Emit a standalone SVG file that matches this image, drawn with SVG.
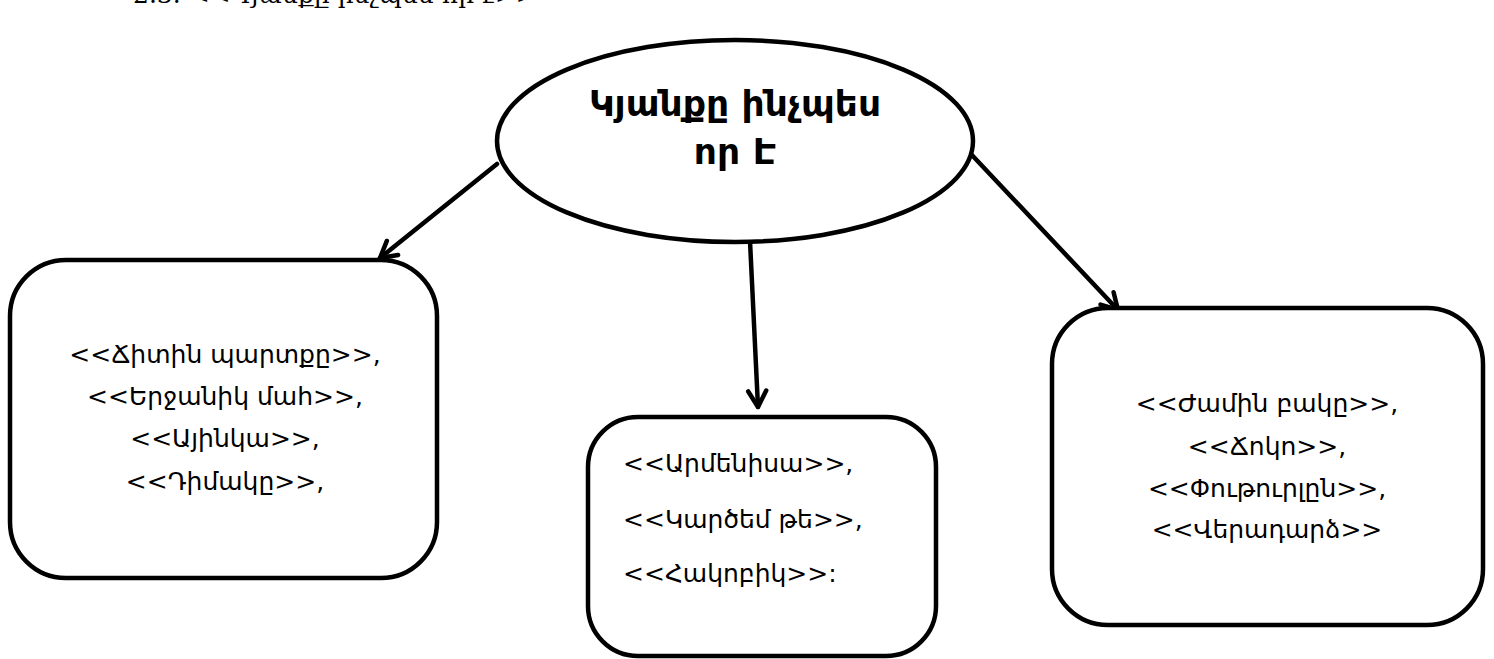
<svg xmlns="http://www.w3.org/2000/svg" width="1494" height="659" viewBox="0 0 1494 659">
<defs>
<style>
.box{fill:#fff;stroke:#000;stroke-width:4.5}
.t{font-family:"DejaVu Sans",sans-serif;font-size:25px;fill:#000}
.c{text-anchor:middle}
.title{font-family:"DejaVu Sans",sans-serif;font-size:36px;font-weight:bold;text-anchor:middle;fill:#000}
.arr{fill:none;stroke:#000;stroke-width:4.5;stroke-linecap:round}
.hd{fill:none;stroke:#000;stroke-width:4.5;stroke-linecap:round;stroke-linejoin:round}
</style>
<marker id="ah" markerUnits="userSpaceOnUse" viewBox="-20 -12 24 24" markerWidth="24" markerHeight="24" refX="0" refY="0" orient="auto">
<path class="hd" d="M-16,-9 L0,0 L-16,9"/>
</marker>
</defs>
<text x="133" y="3" font-family="DejaVu Serif, serif" font-size="25" fill="#000">2.3. &lt;&lt;Կյանքը ինչպես որ է&gt;&gt;</text>
<g id="connectors">
<line class="arr" x1="497" y1="164" x2="380" y2="258" marker-end="url(#ah)"/>
<line class="arr" x1="750" y1="241" x2="758" y2="407" marker-end="url(#ah)"/>
<line class="arr" x1="970" y1="153" x2="1118" y2="310" marker-end="url(#ah)"/>
</g>
<g id="center">
<ellipse class="box" cx="735" cy="141" rx="238" ry="101"/>
<text class="title" x="735" y="116">Կյանքը ինչպես</text>
<text class="title" x="735" y="164">որ Է</text>
</g>
<g id="left">
<rect class="box" x="10" y="260" width="427" height="318" rx="56"/>
<text class="t c" x="225" y="363">&lt;&lt;Ճիտին պարտքը&gt;&gt;,</text>
<text class="t c" x="225" y="405">&lt;&lt;Երջանիկ մահ&gt;&gt;,</text>
<text class="t c" x="225" y="447">&lt;&lt;Այինկա&gt;&gt;,</text>
<text class="t c" x="225" y="490">&lt;&lt;Դիմակը&gt;&gt;,</text>
</g>
<g id="middle">
<rect class="box" x="588" y="417" width="348" height="239" rx="50"/>
<text class="t" x="623" y="472">&lt;&lt;Արմենիսա&gt;&gt;,</text>
<text class="t" x="623" y="528">&lt;&lt;Կարծեմ թե&gt;&gt;,</text>
<text class="t" x="623" y="582">&lt;&lt;Հակոբիկ&gt;&gt;:</text>
</g>
<g id="right">
<rect class="box" x="1052" y="308" width="431" height="317" rx="56"/>
<text class="t c" x="1267" y="412">&lt;&lt;Ժամին բակը&gt;&gt;,</text>
<text class="t c" x="1267" y="455">&lt;&lt;Ճոկո&gt;&gt;,</text>
<text class="t c" x="1267" y="497">&lt;&lt;Փութուրլըն&gt;&gt;,</text>
<text class="t c" x="1267" y="538">&lt;&lt;Վերադարձ&gt;&gt;</text>
</g>
</svg>
